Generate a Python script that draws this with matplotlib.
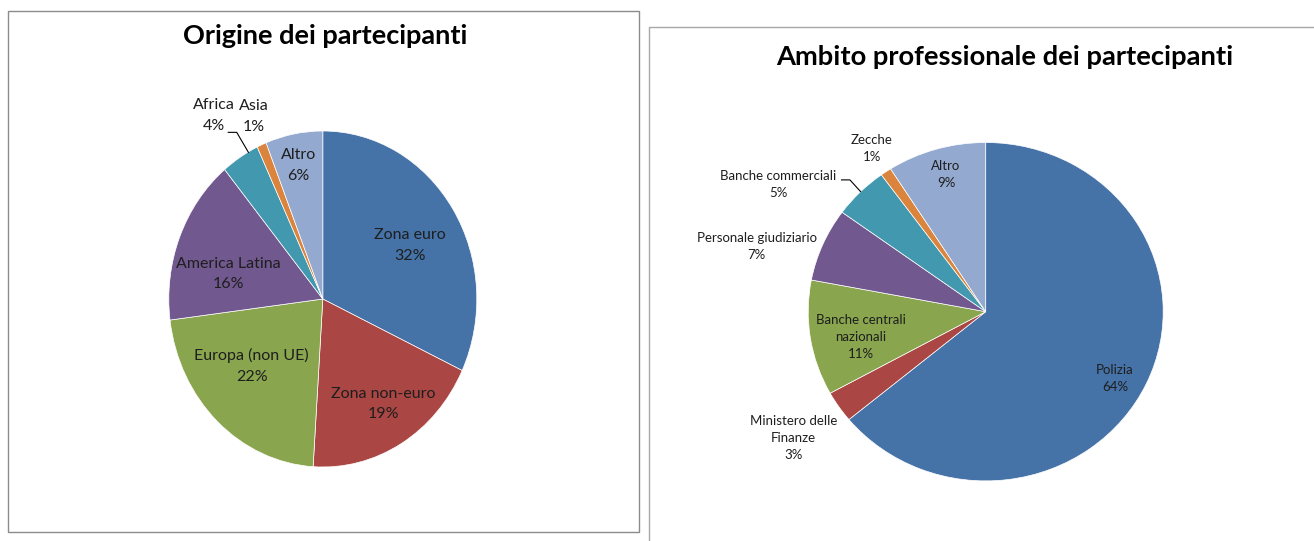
import matplotlib.pyplot as plt
from matplotlib.patches import Rectangle

# data
origine_labels = ["Zona euro", "Zona non-euro", "Europa (non UE)", "America Latina",
                  "Africa", "Asia", "Altro"]
origine_values = [32, 19, 22, 16, 4, 1, 6]

ambito_labels = ["Polizia", "Ministero delle\nFinanze", "Banche centrali\nnazionali",
                 "Personale giudiziario", "Banche commerciali", "Zecche", "Altro"]
ambito_values = [64, 3, 11, 7, 5, 1, 9]

palette = ["#4572A7", "#AA4643", "#89A54E", "#71588F", "#4198AF", "#DB843D", "#93A9CF"]

# label positions in pie units (x, y)
origine_pos = [(0.566, 0.317), (0.393, -0.625), (-0.462, -0.397), (-0.614, 0.149),
               (-0.705, 1.091), (-0.447, 1.088), (-0.159, 0.793)]
ambito_pos = [(0.728, -0.394), (-1.084, -0.748), (-0.703, -0.148), (-1.290, 0.388),
              (-1.169, 0.754), (-0.642, 0.966), (-0.224, 0.808)]


def draw_pie(ax, values, labels, pos, fontsize, spacing, leaders):
    ax.pie(values, colors=palette, startangle=90, counterclock=False,
           wedgeprops=dict(edgecolor="white", linewidth=0.5))
    ax.set_aspect("auto")
    ax.set_xlim(-1, 1)
    ax.set_ylim(-1, 1)
    for name, v, (x, y) in zip(labels, values, pos):
        ax.text(x, y, f"{name}\n{v}%", ha="center", va="center", fontsize=fontsize,
                family="Lato", color="#1e1e1e", linespacing=spacing, clip_on=False)
    for xs, ys in leaders:
        ax.plot(xs, ys, color="black", lw=0.8, clip_on=False)


def main():
    W, H = 1314, 541
    fig = plt.figure(figsize=(W / 100, H / 100), dpi=100)

    # chart boxes
    fig.patches.append(Rectangle((8 / W, 1 - 532 / H), 631 / W, 521 / H,
                                 transform=fig.transFigure, fill=False,
                                 edgecolor="#8c8c8c", lw=1.0))
    fig.patches.append(Rectangle((649 / W, -0.02), 700 / W, 0.02 + 1 - 27 / H,
                                 transform=fig.transFigure, fill=False,
                                 edgecolor="#a8a8a8", lw=1.0))

    # left pie (slightly squeezed horizontally, as in the original)
    ax1 = fig.add_axes([168.8 / W, 1 - 467 / H, 308 / W, 336 / H])
    draw_pie(ax1, origine_values, origine_labels, origine_pos, 11.5, 1.6,
             [([-0.614, -0.559, -0.483], [0.992, 0.992, 0.873])])
    fig.text(325 / W, 1 - 36 / H, "Origine dei partecipanti", ha="center", va="center",
             fontsize=19.5, fontweight="bold", family="Lato")

    # right pie
    ax2 = fig.add_axes([808.2 / W, 1 - 480.9 / H, 355 / W, 338.4 / H])
    draw_pie(ax2, ambito_values, ambito_labels, ambito_pos, 9.5, 1.5,
             [([-0.812, -0.765, -0.705], [0.779, 0.779, 0.710])])
    fig.text(1005 / W, 1 - 57 / H, "Ambito professionale dei partecipanti", ha="center",
             va="center", fontsize=19.7, fontweight="bold", family="Lato")

    fig.savefig("out.png", dpi=100)


if __name__ == "__main__":
    main()
